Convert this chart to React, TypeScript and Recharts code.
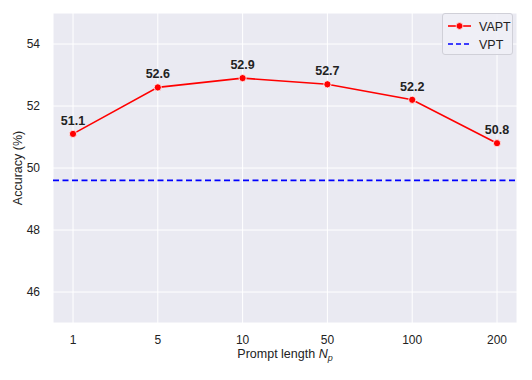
import React from "react";
import {
  LineChart,
  Line,
  XAxis,
  YAxis,
  CartesianGrid,
  ReferenceLine,
  LabelList,
  Label,
} from "recharts";

const promptLengths = ["1", "5", "10", "50", "100", "200"];
const vaptAccuracy = [51.1, 52.6, 52.9, 52.7, 52.2, 50.8];
const vptAccuracy = 49.6;
const yTicks = [46, 48, 50, 52, 54];

const data = promptLengths.map((p, i) => ({ p, vapt: vaptAccuracy[i] }));

const FONT = "'Liberation Sans', Arial, Helvetica, sans-serif";

const Dot = (props: any) => {
  const { cx, cy } = props;
  if (cx == null || cy == null) return null;
  return <circle cx={cx} cy={cy} r={3.6} fill="#ff0000" stroke="#ffffff" strokeWidth={0.8} />;
};

const LegendBox = () => (
  <div
    style={{
      position: "absolute",
      left: 442,
      top: 13,
      width: 71,
      height: 42,
      background: "rgba(240,240,246,0.9)",
      border: "1px solid #d0d0d8",
      borderRadius: 3,
      boxSizing: "border-box",
    }}
  >
    <svg width={71} height={42} style={{ position: "absolute", left: 0, top: 0 }}>
      <line x1={5} x2={28} y1={12} y2={12} stroke="#ff0000" strokeWidth={1.6} />
      <circle cx={16.5} cy={12} r={3.4} fill="#ff0000" stroke="#fff" strokeWidth={0.7} />
      <line x1={5} x2={28} y1={30} y2={30} stroke="#0000ff" strokeWidth={1.6} strokeDasharray="5 3" />
      <text x={36} y={16.5} fontSize={12.5} fill="#222" fontFamily={FONT}>VAPT</text>
      <text x={36} y={34.5} fontSize={12.5} fill="#222" fontFamily={FONT}>VPT</text>
    </svg>
  </div>
);

export default function App() {
  return (
    <div style={{ position: "absolute", left: 0, top: 0, width: 532, height: 380, background: "#fff" }}>
      <LineChart
        width={532}
        height={380}
        data={data}
        margin={{ top: 13, right: 15, bottom: 27, left: 13 }}
      >
        <CartesianGrid stroke="#ffffff" strokeWidth={1} fill="#eaeaf2" fillOpacity={1} />
        <XAxis
          dataKey="p"
          type="category"
          padding={{ left: 20, right: 20 }}
          axisLine={false}
          tickLine={false}
          height={30}
          tick={{ fontSize: 12, fill: "#222", fontFamily: FONT }}
          tickMargin={6}
          interval={0}
        >
          <Label
            content={(props: any) => {
              const vb = props.viewBox || {};
              const cx = vb.x + vb.width / 2;
              return (
                <text x={cx} y={358} textAnchor="middle" fontSize={12.5} fill="#222" fontFamily={FONT}>
                  Prompt length <tspan fontStyle="italic">N</tspan>
                  <tspan fontStyle="italic" fontSize={9} dy={3}>p</tspan>
                </text>
              );
            }}
          />
        </XAxis>
        <YAxis
          domain={[45, 55]}
          ticks={yTicks}
          axisLine={false}
          tickLine={false}
          width={40}
          tick={{ fontSize: 12, fill: "#222", fontFamily: FONT }}
          tickMargin={7}
        >
          <Label
            content={() => (
              <text
                x={22}
                y={168}
                transform="rotate(-90 22 168)"
                textAnchor="middle"
                fontSize={12.5}
                fill="#222"
                fontFamily={FONT}
              >
                Accuracy (%)
              </text>
            )}
          />
        </YAxis>
        <ReferenceLine
          y={vptAccuracy}
          stroke="#0000ff"
          strokeWidth={1.6}
          strokeDasharray="6 3.5"
        />
        <Line
          dataKey="vapt"
          stroke="#ff0000"
          strokeWidth={1.6}
          dot={<Dot />}
          activeDot={false}
          isAnimationActive={false}
        >
          <LabelList
            dataKey="vapt"
            position="top"
            offset={9}
            formatter={(v: any) => Number(v).toFixed(1)}
            style={{ fontSize: 12.5, fontWeight: "bold", fill: "#222", fontFamily: FONT }}
          />
        </Line>
      </LineChart>
      <LegendBox />
    </div>
  );
}
